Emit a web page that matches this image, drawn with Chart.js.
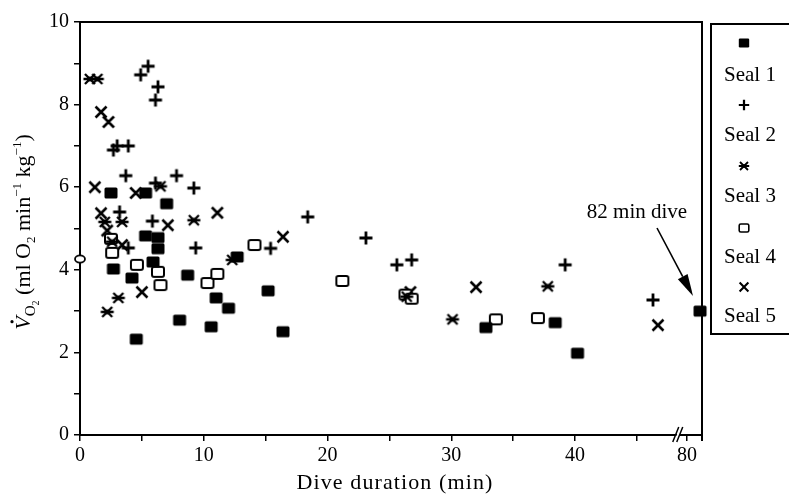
<!DOCTYPE html>
<html><head><meta charset="utf-8">
<script src="https://cdn.jsdelivr.net/npm/chart.js@4/dist/chart.umd.min.js"></script>
<style>html,body{margin:0;padding:0;background:#fff;}canvas{display:block}</style>
</head><body>
<canvas id="c" width="789" height="503"></canvas>
<script>
// ---- data: [dive duration (min), VO2 (ml O2 min-1 kg-1)] ----
const seal1 = [[2.5,5.86],[5.3,5.86],[7.0,5.6],[5.3,4.82],[6.3,4.78],[6.3,4.51],[5.9,4.19],[2.7,4.02],[4.2,3.8],[8.7,3.87],[4.55,2.32],[8.05,2.78],[10.6,2.62],[11.0,3.32],[12.0,3.07],[12.7,4.31],[15.2,3.49],[16.4,2.5],[32.8,2.6],[38.4,2.72],[40.2,1.98],[82,3.0]];
const seal2 = [[4.9,8.72],[5.5,8.93],[6.3,8.43],[6.1,8.11],[2.7,6.9],[3.0,7.0],[3.9,7.0],[3.7,6.28],[7.8,6.28],[6.1,6.1],[9.2,5.98],[3.2,5.4],[5.85,5.18],[3.9,4.53],[9.35,4.53],[15.4,4.52],[18.4,5.28],[23.1,4.77],[25.6,4.12],[26.8,4.24],[39.2,4.12],[46.3,3.27]];
const seal3 = [[0.8,8.62],[1.4,8.62],[6.5,6.02],[2.0,5.16],[3.4,5.16],[2.6,4.68],[9.2,5.2],[12.3,4.24],[3.1,3.32],[2.2,2.98],[26.4,3.35],[30.1,2.8],[37.8,3.6]];
const seal4 = [[2.6,4.41],[2.5,4.75],[4.6,4.12],[6.3,3.95],[6.5,3.63],[10.3,3.68],[11.1,3.9],[14.1,4.6],[21.2,3.73],[26.3,3.4],[26.8,3.3],[33.6,2.8],[37.0,2.83]];
const seal5 = [[1.7,7.82],[2.3,7.58],[1.2,6.0],[4.5,5.86],[1.7,5.37],[2.2,4.95],[3.4,4.6],[7.1,5.08],[5.0,3.46],[11.1,5.38],[16.4,4.8],[26.7,3.46],[32.0,3.58],[46.7,2.66]];
const restPoint = [[0,4.26]];

const legendLabels = ['Seal 1','Seal 2','Seal 3','Seal 4','Seal 5'];
const xTickValues = [0,10,20,30,40,80];
const xTickLabels = ['0','10','20','30','40','80'];
const xMinorTicks = [5,15,25,35,45];
const yTickValues = [0,2,4,6,8,10];
const yMinorTicks = [1,3,5,7,9];
const xTitle = 'Dive duration (min)';
const annotationText = '82 min dive';
const annotatedDive = [82,3.0];

// axis break: durations past the break are compressed next to the axis end
function mapX(d){ return d <= 50 ? d : 49.05 + (d - 80) * 0.525; }
const BREAK_POS = 48.3;
const X_MAX = 50.26;

const FONT = 'Liberation Serif';

function drawMarker(ctx, type, x, y, s){
  ctx.save();
  ctx.strokeStyle = '#000'; ctx.fillStyle = '#000';
  ctx.lineCap = 'butt';
  const rr = (x0,y0,w,h,r)=>{ctx.beginPath();ctx.moveTo(x0+r,y0);ctx.lineTo(x0+w-r,y0);ctx.quadraticCurveTo(x0+w,y0,x0+w,y0+r);ctx.lineTo(x0+w,y0+h-r);ctx.quadraticCurveTo(x0+w,y0+h,x0+w-r,y0+h);ctx.lineTo(x0+r,y0+h);ctx.quadraticCurveTo(x0,y0+h,x0,y0+h-r);ctx.lineTo(x0,y0+r);ctx.quadraticCurveTo(x0,y0,x0+r,y0);ctx.closePath();};
  if (type === 'fsq'){ rr(x-6.5*s,y-5.5*s,13*s,11*s,1.5*s); ctx.fill(); }
  else if (type === 'osq'){ ctx.lineWidth = 2*s; rr(x-6*s,y-5*s,12*s,10*s,2*s); ctx.fillStyle='#fff'; ctx.fill(); ctx.stroke(); }
  else if (type === 'plus'){ ctx.lineWidth = 2.8*s; ctx.beginPath(); ctx.moveTo(x-6.5*s,y); ctx.lineTo(x+6.5*s,y); ctx.moveTo(x,y-6.5*s); ctx.lineTo(x,y+6.5*s); ctx.stroke(); }
  else if (type === 'x'){ ctx.lineWidth = 2.6*s; const a=5.5*s; ctx.beginPath(); ctx.moveTo(x-a,y-a); ctx.lineTo(x+a,y+a); ctx.moveTo(x+a,y-a); ctx.lineTo(x-a,y+a); ctx.stroke(); }
  else if (type === 'star'){ ctx.lineWidth = 2.3*s; const a=5*s; ctx.beginPath(); ctx.moveTo(x-6.5*s,y); ctx.lineTo(x+6.5*s,y); ctx.moveTo(x-a,y-a); ctx.lineTo(x+a,y+a); ctx.moveTo(x+a,y-a); ctx.lineTo(x-a,y+a); ctx.stroke(); ctx.beginPath(); ctx.arc(x,y,2.5*s,0,Math.PI*2); ctx.fill(); }
  else if (type === 'ell'){ ctx.lineWidth = 1.8*s; ctx.beginPath(); ctx.ellipse(x,y,5*s,3.6*s,0,0,Math.PI*2); ctx.fillStyle='#fff'; ctx.fill(); ctx.stroke(); }
  ctx.restore();
}
function markerCanvas(type){
  const c = document.createElement('canvas'); c.width = 20; c.height = 20;
  drawMarker(c.getContext('2d'), type, 10, 10, 1);
  return c;
}
const markerTypes = ['fsq','plus','star','osq','x'];
const seals = [seal1, seal2, seal3, seal4, seal5];

const datasets = seals.map((s,i)=>({
  label: legendLabels[i],
  data: s.map(([d,v])=>({x:mapX(d), y:v})),
  pointStyle: markerCanvas(markerTypes[i]),
  pointRadius: 6, showLine:false, clip:false
}));
datasets.push({label:'rest', data: restPoint.map(([d,v])=>({x:mapX(d),y:v})), pointStyle: markerCanvas('ell'), pointRadius:6, showLine:false, clip:false});

const decor = {
  id:'decor',
  beforeDatasetsDraw(chart){
    const ctx = chart.ctx, a = chart.chartArea, xs = chart.scales.x;
    ctx.save();
    ctx.strokeStyle = '#000'; ctx.lineWidth = 2;
    ctx.beginPath(); ctx.moveTo(a.left, a.top); ctx.lineTo(a.right, a.top); ctx.lineTo(a.right, a.bottom + 6); ctx.stroke();
    // axis break
    const xb = xs.getPixelForValue(BREAK_POS), yb = a.bottom;
    ctx.fillStyle = '#fff';
    ctx.beginPath(); ctx.moveTo(xb-4,yb+7); ctx.lineTo(xb+2,yb-7); ctx.lineTo(xb+5,yb-7); ctx.lineTo(xb-1,yb+7); ctx.closePath(); ctx.fill();
    ctx.lineWidth = 1.5;
    ctx.beginPath(); ctx.moveTo(xb-5,yb+7); ctx.lineTo(xb+1,yb-8); ctx.moveTo(xb-1,yb+7); ctx.lineTo(xb+5,yb-8); ctx.stroke();
    ctx.restore();
  },
  afterDraw(chart){
    const ctx = chart.ctx, xs = chart.scales.x, ys = chart.scales.y, a = chart.chartArea;
    ctx.save();
    ctx.fillStyle = '#000'; ctx.strokeStyle = '#000';
    // x axis title
    ctx.font = '22px "' + FONT + '"'; ctx.textAlign = 'center'; ctx.textBaseline = 'middle';
    if ('letterSpacing' in ctx) ctx.letterSpacing = '1.1px';
    ctx.fillText(xTitle, (a.left + a.right) / 2 + 4, 483);
    if ('letterSpacing' in ctx) ctx.letterSpacing = '0px';
    // legend box
    ctx.lineWidth = 2;
    ctx.beginPath(); ctx.moveTo(789, 334); ctx.lineTo(711, 334); ctx.lineTo(711, 24); ctx.lineTo(789, 24); ctx.stroke();
    const symY = [43,105,166,228,287], txtY = [75,135,196,257,316];
    ctx.font = '21px "' + FONT + '"'; ctx.textBaseline = 'middle'; ctx.textAlign = 'left';
    legendLabels.forEach((t,i)=>{
      drawMarker(ctx, markerTypes[i], 744, symY[i], 0.8);
      ctx.fillText(t, 724, txtY[i]);
    });
    // annotation
    ctx.textAlign = 'center';
    ctx.fillText(annotationText, 637, 212);
    const tipX = xs.getPixelForValue(mapX(annotatedDive[0])) - 7, tipY = ys.getPixelForValue(annotatedDive[1]) - 15;
    const sx = 657, sy = 228;
    const dx = tipX - sx, dy = tipY - sy, L = Math.hypot(dx,dy), ux = dx/L, uy = dy/L;
    const bx = tipX - 22*ux, by = tipY - 22*uy;
    ctx.lineWidth = 1.6;
    ctx.beginPath(); ctx.moveTo(sx,sy); ctx.lineTo(bx,by); ctx.stroke();
    ctx.beginPath(); ctx.moveTo(tipX,tipY); ctx.lineTo(bx - 5.5*uy, by + 5.5*ux); ctx.lineTo(bx + 5.5*uy, by - 5.5*ux); ctx.closePath(); ctx.fill();
    // y axis title (rotated, with sub/superscripts)
    const segs = [
      {t:'V', size:22, dy:0, it:true, dot:true},
      {t:'O', size:15, dy:5},
      {t:'2', size:10, dy:9},
      {t:' (ml O', size:22, dy:0},
      {t:'2', size:13, dy:5},
      {t:' min', size:22, dy:0},
      {t:'\u22121', size:13, dy:-9},
      {t:' kg', size:22, dy:0},
      {t:'\u22121', size:13, dy:-9},
      {t:')', size:22, dy:0}
    ];
    const fnt = s => (s.it ? 'italic ' : '') + s.size + 'px "' + FONT + '"';
    let total = 0;
    segs.forEach(s=>{ ctx.font = fnt(s); s.w = ctx.measureText(s.t).width; total += s.w; });
    ctx.translate(30, 232); ctx.rotate(-Math.PI/2);
    ctx.textAlign = 'left'; ctx.textBaseline = 'alphabetic';
    let x = -total/2;
    segs.forEach(s=>{
      ctx.font = fnt(s);
      ctx.fillText(s.t, x, s.dy);
      if (s.dot){ ctx.beginPath(); ctx.arc(x + s.w*0.6, -18, 1.6, 0, Math.PI*2); ctx.fill(); }
      x += s.w;
    });
    ctx.restore();
  }
};

new Chart(document.getElementById('c'), {
  type:'scatter',
  data:{datasets},
  options:{
    responsive:false, animation:false, devicePixelRatio:1, events:[],
    layout:{padding:{left:0, top:22, right:87, bottom:0}},
    plugins:{legend:{display:false}, tooltip:{enabled:false}},
    scales:{
      x:{
        type:'linear', min:0, max:X_MAX,
        afterBuildTicks: s => { s.ticks = xTickValues.map(v=>({value:mapX(v)})).concat(xMinorTicks.map(v=>({value:v}))).sort((a,b)=>a.value-b.value); },
        ticks:{autoSkip:false, maxRotation:0, color:'#000', padding:3, font:{family:FONT, size:20},
          callback:(v)=>{ const i = xTickValues.findIndex(t=>Math.abs(mapX(t)-v)<1e-6); return i>=0 ? xTickLabels[i] : ''; }},
        grid:{drawOnChartArea:false, drawTicks:true, tickLength:6, color:'#000', lineWidth:1.5},
        border:{display:true, color:'#000', width:2},
        title:{display:false},
        afterFit: s => { s.height = 68; }
      },
      y:{
        min:0, max:10,
        afterBuildTicks: s => { s.ticks = yTickValues.concat(yMinorTicks).sort((a,b)=>a-b).map(v=>({value:v})); },
        ticks:{autoSkip:false, color:'#000', padding:5, font:{family:FONT, size:20},
          callback:(v)=> yTickValues.includes(v) ? String(v) : ''},
        grid:{drawOnChartArea:false, drawTicks:true, tickLength:6, color:'#000', lineWidth:1.5},
        border:{display:true, color:'#000', width:2},
        afterFit: s => { s.width = 80; }
      }
    }
  },
  plugins:[decor]
});
</script>
</body></html>
